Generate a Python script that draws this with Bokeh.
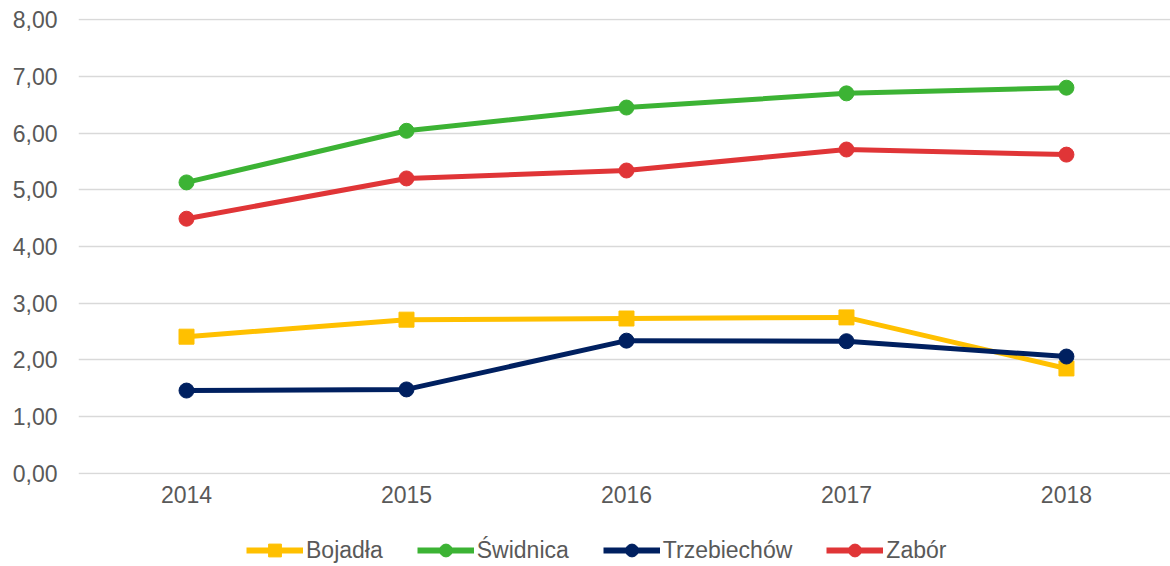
from bokeh.plotting import figure
from bokeh.models import FixedTicker, Legend, LegendItem, ColumnDataSource
from bokeh.layouts import column
from bokeh.embed import file_html
from bokeh.resources import INLINE

years = [2014, 2015, 2016, 2017, 2018]
bojadla = [2.41, 2.71, 2.73, 2.75, 1.85]
swidnica = [5.13, 6.04, 6.45, 6.70, 6.80]
trzebiechow = [1.46, 1.48, 2.34, 2.33, 2.06]
zabor = [4.49, 5.20, 5.34, 5.71, 5.62]
y_ticks = [0, 1, 2, 3, 4, 5, 6, 7, 8]
y_tick_labels = ["0,00", "1,00", "2,00", "3,00", "4,00", "5,00", "6,00", "7,00", "8,00"]

series = [
    ("Bojadła", bojadla, "#FFC000", "square"),
    ("Świdnica", swidnica, "#3CB334", "circle"),
    ("Trzebiechów", trzebiechow, "#002060", "circle"),
    ("Zabór", zabor, "#E03537", "circle"),
]

FONT = "Liberation Sans"
TXT = "#595959"

p = figure(width=1170, height=516, output_backend="svg", toolbar_location=None,
           x_range=(2013.509, 2018.473), y_range=(-0.02, 8.02),
           min_border_left=78, min_border_right=0, min_border_top=18, min_border_bottom=42)
p.outline_line_color = None
p.background_fill_color = "white"
p.border_fill_color = "white"

p.xgrid.grid_line_color = None
p.ygrid.grid_line_color = "#D9D9D9"
p.ygrid.grid_line_width = 1.5

p.yaxis.ticker = FixedTicker(ticks=y_ticks)
p.yaxis.major_label_overrides = {t: l for t, l in zip(y_ticks, y_tick_labels)}
p.xaxis.ticker = FixedTicker(ticks=years)
p.xaxis.major_label_overrides = {y: str(y) for y in years}

for ax in (p.xaxis, p.yaxis):
    ax.axis_line_color = None
    ax.major_tick_line_color = None
    ax.minor_tick_line_color = None
    ax.major_tick_out = 0
    ax.major_tick_in = 0
    ax.major_label_text_font = FONT
    ax.major_label_text_font_size = "23px"
    ax.major_label_text_color = TXT
p.yaxis.major_label_standoff = 21
p.xaxis.major_label_standoff = 11

# legend-only figure below the chart (its glyphs lie outside its visible range)
lf = figure(width=1170, height=50, output_backend="svg", toolbar_location=None,
            x_range=(0, 1), y_range=(-100, -99),
            min_border_left=0, min_border_right=0, min_border_top=0, min_border_bottom=0)
lf.axis.visible = False
lf.grid.visible = False
lf.outline_line_color = None
lf.background_fill_color = "white"
lf.border_fill_color = "white"

items = []
for name, vals, color, marker in series:
    src = ColumnDataSource(dict(x=years, y=vals))
    p.line("x", "y", source=src, line_color=color, line_width=5)
    p.scatter("x", "y", source=src, marker=marker, size=15,
              fill_color=color, line_color=color)
    l1 = lf.line("x", "y", source=src, line_color=color, line_width=6)
    l2 = lf.scatter("x", "y", source=src, marker=marker, size=13,
                    fill_color=color, line_color=color)
    items.append(LegendItem(label=name, renderers=[l1, l2]))

legend = Legend(items=items, orientation="horizontal", location=(168, 0),
                glyph_width=57, glyph_height=32, label_height=32, label_standoff=3,
                spacing=34, padding=0, margin=0,
                border_line_color=None, background_fill_alpha=0,
                label_text_font=FONT, label_text_font_size="23px", label_text_color=TXT)
lf.add_layout(legend, "center")

layout = column(p, lf, spacing=0)
open("out.html", "w").write(file_html(layout, INLINE))
